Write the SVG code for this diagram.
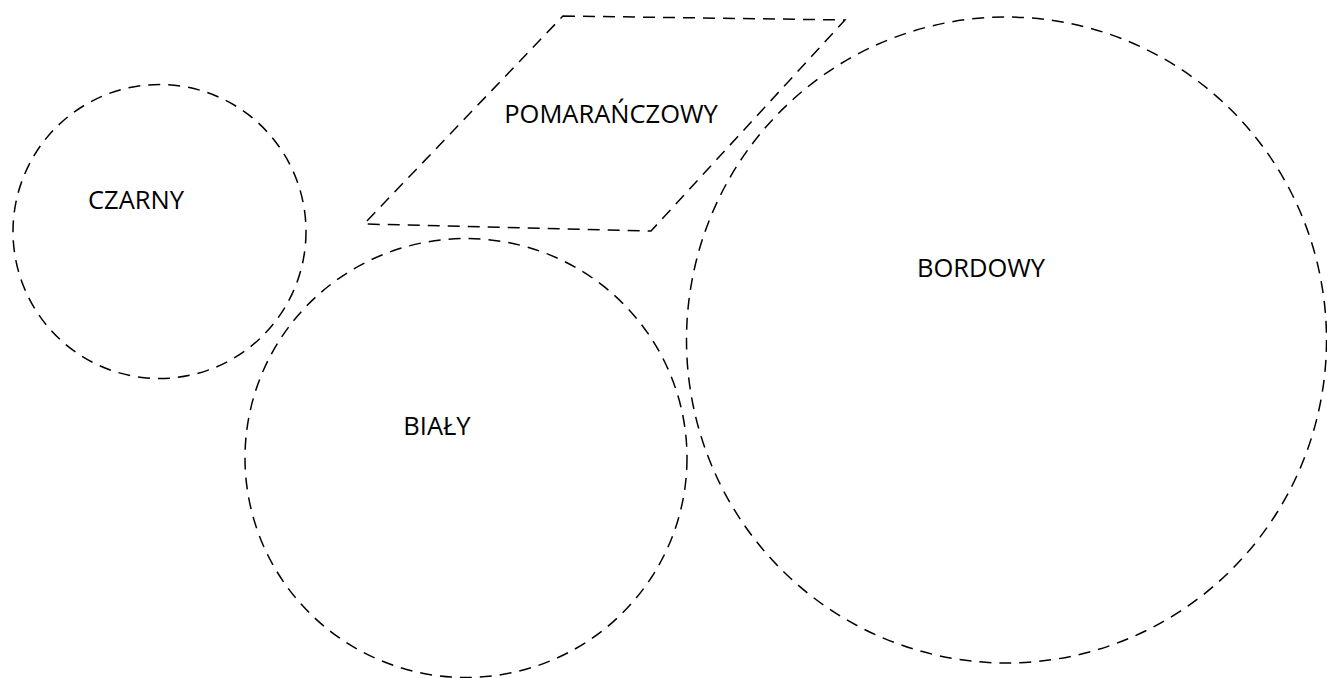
<svg xmlns="http://www.w3.org/2000/svg" width="1327" height="678" viewBox="0 0 1327 678">
<style>
.shape{fill:none;stroke:#000;stroke-width:1.5;stroke-dasharray:12 8}
.lbl{font-family:"Open Sans","Liberation Sans",sans-serif;font-size:25.5px;fill:#000;text-anchor:middle}
</style>
<rect width="1327" height="678" fill="#fff"/>
<g id="czarny">
<ellipse class="shape" cx="159.5" cy="231.5" rx="146.5" ry="147"/>
<text class="lbl" x="136" y="209">CZARNY</text>
</g>
<g id="pomaranczowy">
<polygon class="shape" points="563,16 845,20 651,231 364,224"/>
<text class="lbl" x="611" y="123">POMARAŃCZOWY</text>
</g>
<g id="bialy">
<ellipse class="shape" cx="466" cy="458" rx="221" ry="219.5"/>
<text class="lbl" x="437" y="435">BIAŁY</text>
</g>
<g id="bordowy">
<ellipse class="shape" cx="1006.5" cy="340" rx="320" ry="323"/>
<text class="lbl" x="981" y="277">BORDOWY</text>
</g>
<g id="connectors"></g>
</svg>
